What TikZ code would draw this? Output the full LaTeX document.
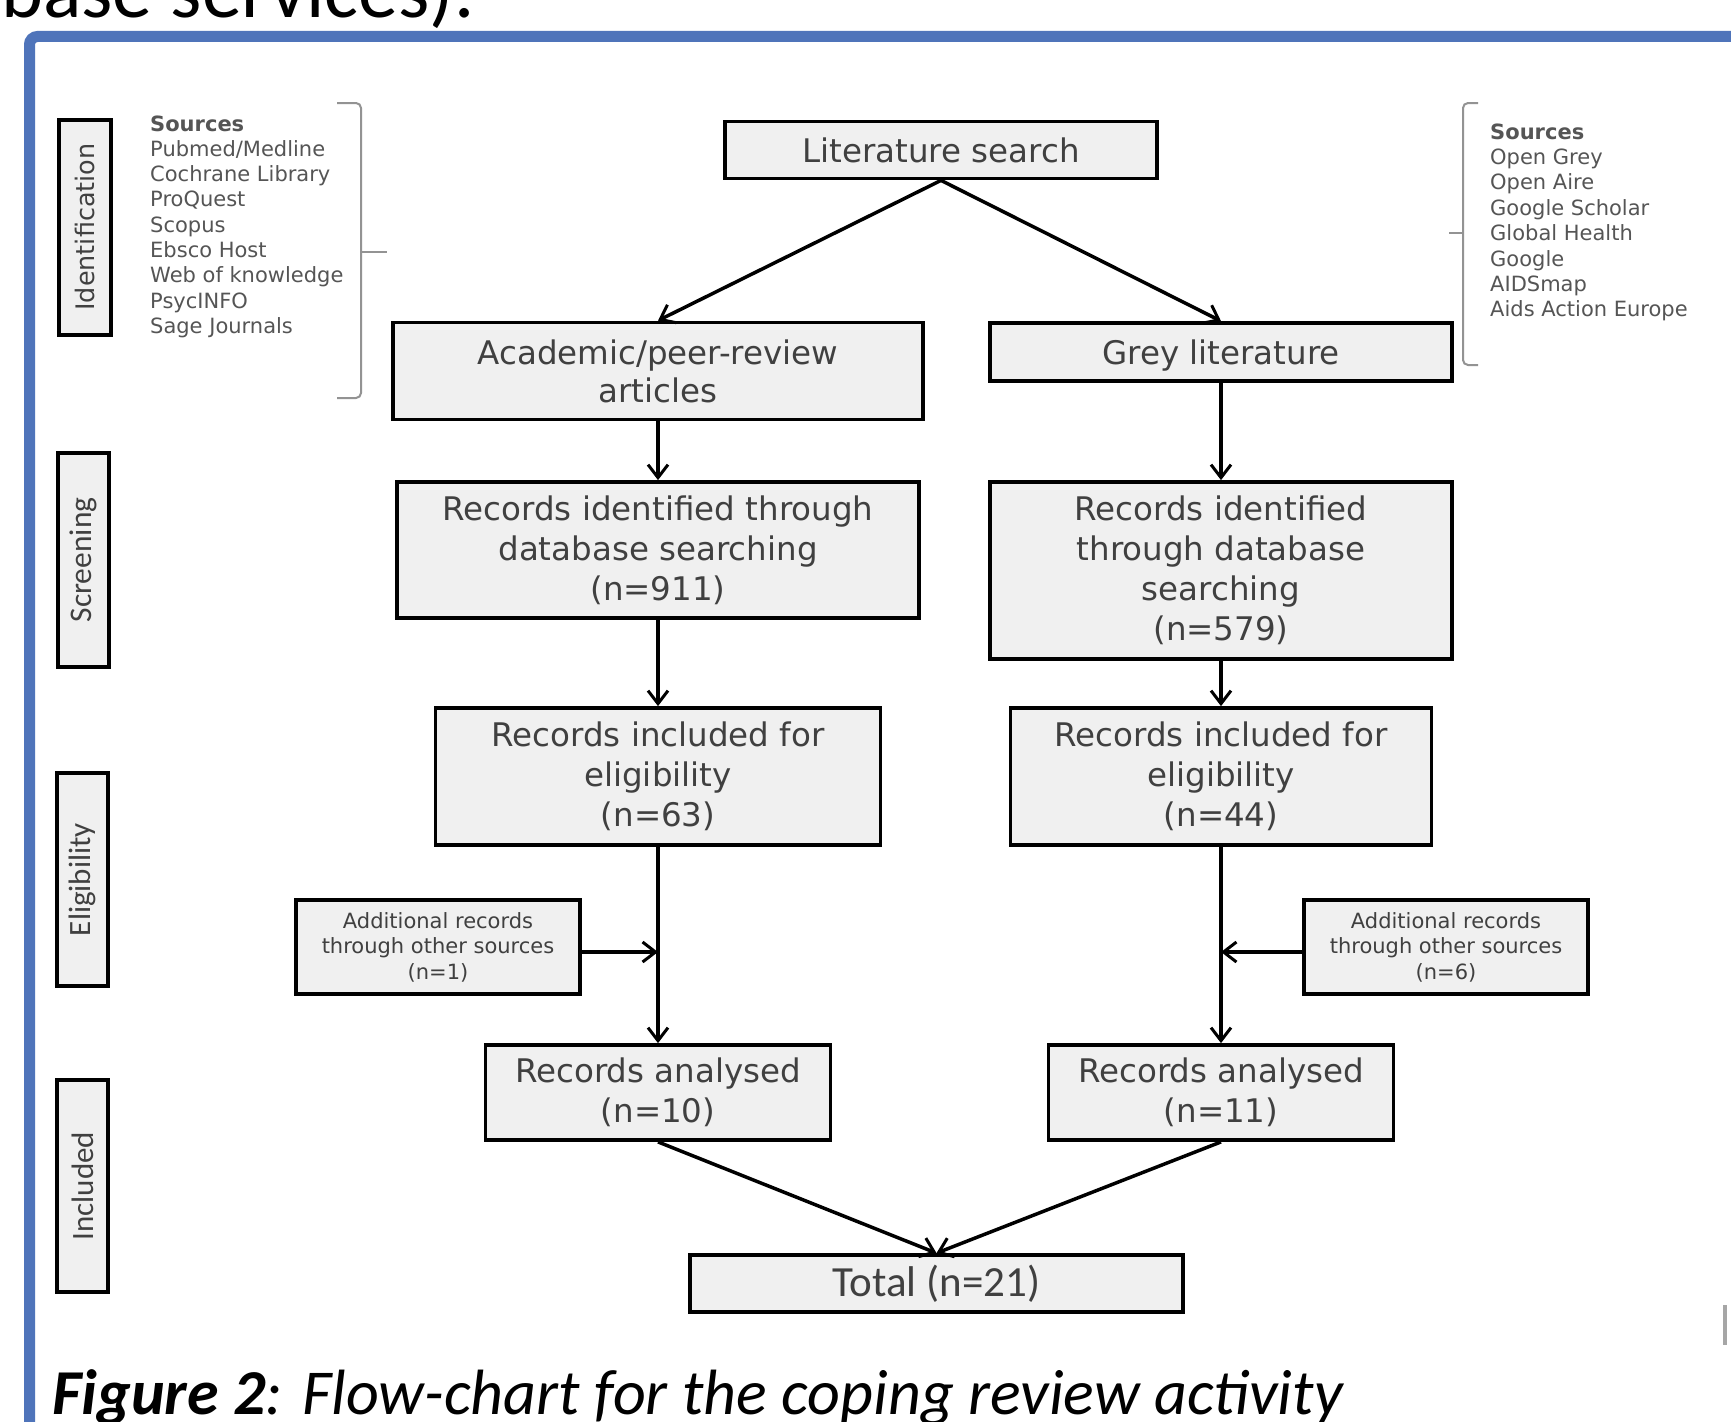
\documentclass[tikz,border=0pt]{standalone}
\usepackage{fontspec}
\usetikzlibrary{arrows.meta}
\newfontfamily\dvfont{DejaVu Sans}
\newfontfamily\carlfont{Carlito}
\definecolor{frameblue}{RGB}{79,116,186}
\definecolor{boxfill}{RGB}{240,240,240}
\definecolor{txtgray}{RGB}{64,64,64}
\definecolor{srcgray}{RGB}{85,85,85}
\tikzset{
  flowbox/.style={draw=black, line width=3.8pt, fill=boxfill, text=txtgray,
    align=center, inner sep=0pt, font=\dvfont\fontsize{32.5}{40}\selectfont},
  addbox/.style={draw=black, line width=3.5pt, fill=boxfill, text=txtgray,
    align=center, inner sep=0pt, font=\dvfont\fontsize{21}{25.5}\selectfont},
  sidebox/.style={draw=black, line width=4pt, fill=boxfill, text=txtgray,
    inner sep=0pt, minimum width=51pt, minimum height=213pt},
  srcline/.style={anchor=base west, inner sep=0pt, text=srcgray,
    font=\dvfont\fontsize{21}{25}\selectfont},
  flowarrow/.style={line width=3.5pt, draw=black,
    -{Straight Barb[length=13pt,width=20pt,line width=3pt]}},
  bracket/.style={draw=gray!85, line width=2pt, rounded corners=5pt}
}
\begin{document}
\begin{tikzpicture}[x=1pt,y=-1pt]
\useasboundingbox (0,0) rectangle (1731,1421);
\fill[white] (0,0) rectangle (1731,1421);
% top text (cut)
\node[anchor=base west, inner sep=0pt, font=\carlfont\fontsize{80}{90}\selectfont] (toptext) at (1,18) {base services).};
% blue frame
\draw[frameblue, line width=11pt, rounded corners=8pt] (29.5,36.5) rectangle (1790,1480);
% side labels
\node[sidebox, minimum width=52pt, minimum height=215pt] (ident) at (84.5,227) {};
\node[rotate=90, text=txtgray, font=\dvfont\fontsize{25.5}{30}\selectfont, inner sep=0pt] (identt) at (ident.center) {Identification};
\node[sidebox, minimum height=214pt] (screen) at (83.5,560) {};
\node[rotate=90, text=txtgray, font=\carlfont\fontsize{31.5}{36}\selectfont, inner sep=0pt] (screent) at (screen.center) {Screening};
\node[sidebox] (elig) at (82.5,879.5) {};
\node[rotate=90, text=txtgray, font=\carlfont\fontsize{31}{36}\selectfont, inner sep=0pt] (eligt) at (elig.center) {Eligibility};
\node[sidebox, minimum height=212pt] (incl) at (82.5,1186) {};
\node[rotate=90, text=txtgray, font=\carlfont\fontsize{31}{36}\selectfont, inner sep=0pt] (inclt) at (incl.center) {Included};
% left sources
\node[srcline, font=\dvfont\bfseries\fontsize{21}{25}\selectfont] (ls0) at (150,131) {Sources};
\foreach \t [count=\i] in {Pubmed/Medline, Cochrane Library, ProQuest, Scopus, Ebsco Host, Web of knowledge, PsycINFO, Sage Journals}
  \node[srcline] (ls\i) at (150,131+25.3*\i) {\t};
\draw[bracket] (337,103) -- (361,103) -- (361,398) -- (337,398);
\draw[bracket] (361,252) -- (387,252);
% right sources
\node[srcline, font=\dvfont\bfseries\fontsize{21}{25}\selectfont] (rs0) at (1490,139) {Sources};
\foreach \t [count=\i] in {Open Grey, Open Aire, Google Scholar, Global Health, Google, AIDSmap, Aids Action Europe}
  \node[srcline] (rs\i) at (1490,139+25.4*\i) {\t};
\draw[bracket] (1478,103) -- (1463,103) -- (1463,365) -- (1478,365);
\draw[bracket] (1463,233) -- (1449,233);
% main boxes
\node[flowbox, minimum width=432pt, minimum height=57pt] (lit) at (941,150) {Literature search};
\node[flowbox, minimum width=530pt, minimum height=97pt] (acad) at (658,371) {\raisebox{-2pt}[24pt][8pt]{Academic/peer-review}\\articles};
\node[flowbox, minimum width=462pt, minimum height=58pt] (grey) at (1221,352) {\raisebox{-4pt}[24pt][8pt]{Grey literature}};
\node[flowbox, minimum width=522pt, minimum height=136pt] (rec1) at (658,550) {Records identified through\\database searching\\(n=911)};
\node[flowbox, minimum width=462pt, minimum height=177pt] (rec2) at (1221,570.5) {Records identified\\through database\\searching\\(n=579)};
\node[flowbox, minimum width=445pt, minimum height=137pt] (inc1) at (658,776.5) {Records included for\\eligibility\\(n=63)};
\node[flowbox, minimum width=421pt, minimum height=137pt] (inc2) at (1221,776.5) {Records included for\\eligibility\\(n=44)};
\node[addbox, minimum width=284pt, minimum height=94pt] (add1) at (438,947) {Additional records\\through other sources\\(n=1)};
\node[addbox, minimum width=284pt, minimum height=94pt] (add2) at (1446,947) {Additional records\\through other sources\\(n=6)};
\node[flowbox, minimum width=345pt, minimum height=95pt] (an1) at (658,1092.5) {Records analysed\\(n=10)};
\node[flowbox, minimum width=345pt, minimum height=95pt] (an2) at (1221,1092.5) {Records analysed\\(n=11)};
\node[flowbox, minimum width=493pt, minimum height=57pt, font=\carlfont\fontsize{43}{48}\selectfont] (total) at (936.5,1283.5) {Total (n=21)};
% connectors
\coordinate (j1) at (658,952);
\coordinate (j2) at (1221,952);
\draw[flowarrow] (lit.south) -- (acad.north);
\draw[flowarrow] (lit.south) -- (grey.north);
\draw[flowarrow] (acad.south) -- (rec1.north);
\draw[flowarrow] (grey.south) -- (rec2.north);
\draw[flowarrow] (rec1.south) -- (inc1.north);
\draw[flowarrow] (rec2.south) -- (inc2.north);
\draw[flowarrow] (inc1.south) -- (an1.north);
\draw[flowarrow] (inc2.south) -- (an2.north);
\draw[flowarrow] (add1.east |- j1) -- (j1);
\draw[flowarrow] (add2.west |- j2) -- (j2);
\draw[flowarrow] (an1.south) -- (total.north);
\draw[flowarrow] (an2.south) -- (total.north);
% stray mark at right edge
\draw[gray!70, line width=4pt] (1725,1305) -- (1725,1345);
% caption
\node[anchor=base west, inner sep=0pt, font=\carlfont\fontsize{64}{70}\selectfont] (caption) at (52,1414) {{\bfseries\itshape Figure 2}{\itshape: Flow-chart for the coping review activity}};
\end{tikzpicture}
\end{document}
